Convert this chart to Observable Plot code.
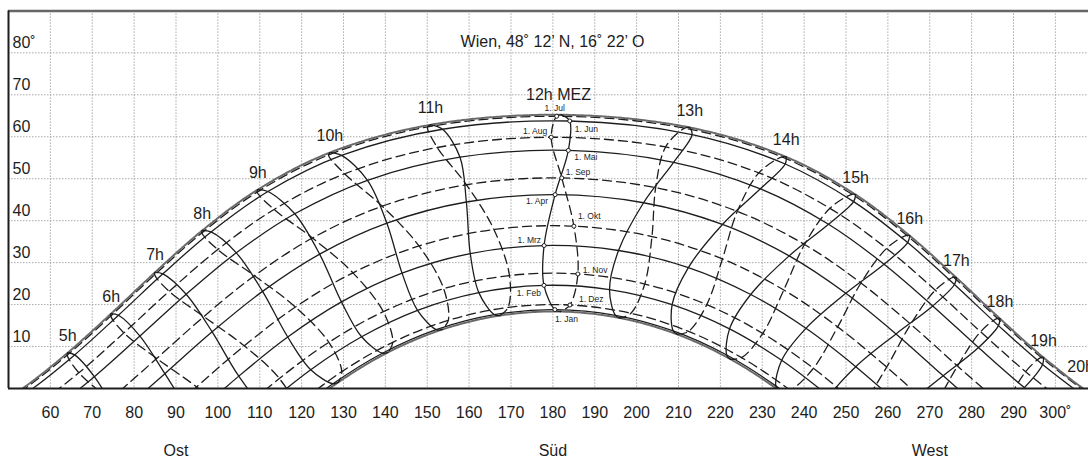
<!DOCTYPE html>
<html><head><meta charset="utf-8">
<script src="https://cdn.jsdelivr.net/npm/d3@7"></script>
<script src="https://cdn.jsdelivr.net/npm/@observablehq/plot@0.6"></script>
<style>html,body{margin:0;padding:0;background:#fff;overflow:hidden}</style>
</head><body><div id="chart"></div>
<script>
// ---- data: [hour (MEZ), azimuth °, altitude °] read for each date ----
const jan1 = [[7,116.58,-7.32],[8,127.49,1.14],[9,139.29,8.41],[10,152.14,14.04],[11,166.00,17.61],[12,180.48,18.80],[13,194.94,17.45],[14,208.74,13.73],[15,221.52,7.98],[16,233.24,0.62],[17,244.12,-7.91]];
const feb1 = [[7,110.98,-4.45],[8,122.18,4.48],[9,134.32,12.33],[10,147.68,18.63],[11,162.32,22.85],[12,177.87,24.58],[13,193.53,23.59],[14,208.48,19.99],[15,222.19,14.21],[16,234.64,6.73],[17,246.05,-1.94]];
const mar1 = [[6,93.85,-6.90],[7,105.00,2.95],[8,116.68,12.27],[9,129.51,20.64],[10,143.98,27.50],[11,160.27,32.17],[12,177.90,34.07],[13,195.68,32.89],[14,212.36,28.82],[15,227.25,22.41],[16,240.43,14.34],[17,252.33,5.20],[18,263.55,-4.57]];
const apr1 = [[5,76.09,-6.36],[6,87.34,3.53],[7,98.63,13.50],[8,110.67,23.15],[9,124.30,32.02],[10,140.36,39.41],[11,159.34,44.45],[12,180.53,46.20],[13,201.66,44.27],[14,220.50,39.10],[15,236.43,31.61],[16,249.95,22.69],[17,261.94,13.01],[18,273.21,3.03],[19,284.48,-6.83]];
const may1 = [[4,59.16,-6.23],[5,70.50,2.81],[6,81.39,12.50],[7,92.43,22.46],[8,104.40,32.34],[9,118.36,41.64],[10,135.73,49.63],[11,157.82,55.13],[12,183.69,56.75],[13,208.83,53.92],[14,229.55,47.59],[15,245.82,39.14],[16,259.09,29.62],[17,270.71,19.68],[18,281.64,9.75],[19,292.59,0.21],[20,304.15,-8.58]];
const jun1 = [[3,43.60,-8.00],[4,54.90,-0.66],[5,65.79,8.01],[6,76.26,17.46],[7,86.87,27.33],[8,98.37,37.31],[9,111.95,46.95],[10,129.53,55.55],[11,153.65,61.79],[12,184.03,63.76],[13,213.25,60.53],[14,235.49,53.51],[15,251.82,44.54],[16,264.72,34.77],[17,275.90,24.79],[18,286.41,14.99],[19,296.94,5.71],[20,308.01,-2.72]];
const jul1 = [[3,41.44,-7.90],[4,53.13,-0.58],[5,64.01,7.94],[6,74.42,17.28],[7,84.90,27.10],[8,96.17,37.08],[9,109.37,46.81],[10,126.41,55.65],[11,150.07,62.34],[12,180.91,64.89],[13,211.47,62.06],[14,234.70,55.19],[15,251.45,46.29],[16,264.50,36.52],[17,275.71,26.54],[18,286.16,16.74],[19,296.59,7.44],[20,307.50,-1.03]];
const aug1 = [[4,55.54,-5.00],[5,66.81,3.75],[6,77.55,13.26],[7,88.36,23.16],[8,99.97,33.11],[9,113.41,42.68],[10,130.28,51.18],[11,152.39,57.44],[12,179.60,59.89],[13,206.92,57.57],[14,229.19,51.40],[15,246.16,42.94],[16,259.69,33.39],[17,271.33,23.44],[18,282.14,13.53],[19,292.89,4.01],[20,304.13,-4.77]];
const sep1 = [[5,74.25,-2.67],[6,85.39,7.16],[7,96.64,17.14],[8,108.73,26.88],[9,122.58,35.87],[10,139.24,43.45],[11,159.37,48.56],[12,182.12,50.19],[13,204.55,47.87],[14,224.05,42.22],[15,240.10,34.33],[16,253.57,25.14],[17,265.45,15.33],[18,276.63,5.34],[19,287.82,-4.41]];
const oct1 = [[5,83.70,-9.61],[6,94.92,0.37],[7,106.30,10.18],[8,118.52,19.41],[9,132.25,27.57],[10,148.03,33.97],[11,165.92,37.90],[12,185.02,38.69],[13,203.66,36.21],[14,220.49,30.88],[15,235.15,23.48],[16,248.02,14.69],[17,259.71,5.10],[18,270.92,-4.85]];
const nov1 = [[6,103.61,-7.04],[7,114.68,2.39],[8,126.50,11.00],[9,139.50,18.31],[10,153.92,23.79],[11,169.63,26.92],[12,185.97,27.30],[13,201.94,24.90],[14,216.75,19.99],[15,230.12,13.12],[16,242.22,4.82],[17,253.43,-4.43]];
const dec1 = [[7,118.40,-4.26],[8,129.60,4.03],[9,141.76,11.01],[10,155.03,16.25],[11,169.30,19.32],[12,184.07,19.90],[13,198.64,17.92],[14,212.40,13.61],[15,225.06,7.35],[16,236.65,-0.39],[17,247.52,-9.21]];
const jun21 = [[3,41.64,-7.41],[4,53.31,-0.03],[5,64.14,8.52],[6,74.53,17.86],[7,84.99,27.68],[8,96.27,37.66],[9,109.54,47.40],[10,126.74,56.22],[11,150.77,62.85],[12,182.06,65.24],[13,212.69,62.21],[14,235.72,55.19],[15,252.29,46.20],[16,265.22,36.41],[17,276.35,26.43],[18,286.76,16.65],[19,297.17,7.39],[20,308.09,-1.02],[21,319.86,-8.21]];
const dec21 = [[7,117.82,-6.86],[8,128.77,1.49],[9,140.61,8.60],[10,153.50,14.03],[11,167.35,17.39],[12,181.78,18.34],[13,196.12,16.78],[14,209.76,12.88],[15,222.40,6.99],[16,233.99,-0.46],[17,244.77,-9.06]];

const months = ["1. Jan","1. Feb","1. Mrz","1. Apr","1. Mai","1. Jun","1. Jul","1. Aug","1. Sep","1. Okt","1. Nov","1. Dez"];
const solstices = ["21. Jun","21. Dez"];
const hourLabels = [5,6,7,8,9,10,11,12,13,14,15,16,17,18,19,20];
const xTicks = [60,70,80,90,100,110,120,130,140,150,160,170,180,190,200,210,220,230,240,250,260,270,280,290,300];
const yTicks = [10,20,30,40,50,60,70,80];
const directions = ["Ost","Süd","West"];
const directionAz = [90,180,270];
const title = "Wien, 48˚ 12’ N, 16˚ 22’ O";

// ---- build tables ----
const series = [jan1,feb1,mar1,apr1,may1,jun1,jul1,aug1,sep1,oct1,nov1,dec1];
const byDate = new Map(months.map((m,i)=>[m,series[i]]));
byDate.set("21. Jun", jun21); byDate.set("21. Dez", dec21);
const rows = [];
for (const [date, pts] of byDate) for (const [hour, az, alt] of pts) rows.push({date, hour, az, alt});
const find = (dt, h) => rows.find(r => r.date === dt && r.hour === h);

const firstHalf = months.slice(0,6), secondHalf = months.slice(6);
const solidPaths = rows.filter(d => firstHalf.includes(d.date));
const dashedPaths = rows.filter(d => secondHalf.includes(d.date));
const solsticePaths = rows.filter(d => solstices.includes(d.date));
const risingOrder = ["21. Dez", ...firstHalf, "21. Jun"];
const fallingOrder = ["21. Jun", ...secondHalf, "21. Dez"];
const loopHours = hourLabels.filter(h => h <= 19);
const risingLoops = loopHours.flatMap(h => risingOrder.map(dt => find(dt,h)).filter(Boolean));
const fallingLoops = loopHours.flatMap(h => fallingOrder.map(dt => find(dt,h)).filter(Boolean));
const noon = months.map(m => find(m, 12));
const hourTops = hourLabels.map(h => find("21. Jun", h));

// ---- styles / layout ----
const ink = "#1d1d1d";
const font = "Liberation Sans, Arial, Helvetica, sans-serif";
const monthLabelLayout = {
  "1. Jan": {dx: 0, dy: 10, a: "start"},
  "1. Feb": {dx: -3, dy: 8, a: "end"},
  "1. Mrz": {dx: -3, dy: -5, a: "end"},
  "1. Apr": {dx: -7, dy: 7, a: "end"},
  "1. Mai": {dx: 6, dy: 7, a: "start"},
  "1. Jun": {dx: 5, dy: 8, a: "start"},
  "1. Jul": {dx: -2, dy: -8, a: "middle"},
  "1. Aug": {dx: -4, dy: -6, a: "end"},
  "1. Sep": {dx: 4, dy: -6, a: "start"},
  "1. Okt": {dx: 4, dy: -10, a: "start"},
  "1. Nov": {dx: 5, dy: -4, a: "start"},
  "1. Dez": {dx: 9, dy: -6, a: "start"}
};

const lineOpts = {x: "az", y: "alt", curve: "catmull-rom", clip: true, stroke: ink, strokeWidth: 1.3};

const chart = Plot.plot({
  width: 1088, height: 461,
  marginLeft: 8, marginRight: 0, marginTop: 10.4, marginBottom: 73,
  x: {domain: [50, 310], range: [8, 1096.75]},
  y: {domain: [0, 90], range: [388, 10.4], axis: null},
  style: {fontFamily: font, fontSize: "16px", color: ink, background: "#fff"},
  marks: [
    Plot.ruleX(xTicks, {stroke: "#a0a0a0", strokeWidth: 0.9, strokeDasharray: "1.5,1.5"}),
    Plot.ruleY(yTicks, {stroke: "#a0a0a0", strokeWidth: 0.9, strokeDasharray: "1.5,1.5"}),
    Plot.line(solidPaths, {...lineOpts, z: "date"}),
    Plot.line(dashedPaths, {...lineOpts, z: "date", strokeDasharray: "9,5"}),
    Plot.line(solsticePaths, {...lineOpts, z: "date", stroke: "#6a6a6a", strokeWidth: 2, strokeDasharray: "4,1.2,1,1.2"}),
    Plot.line(risingLoops, {...lineOpts, z: "hour"}),
    Plot.line(fallingLoops, {...lineOpts, z: "hour", strokeDasharray: "9,5"}),
    Plot.dot(noon, {x: "az", y: "alt", r: 2, fill: "#fff", stroke: ink, strokeWidth: 1}),
    ...months.map((m, i) => Plot.text([noon[i]], {x: "az", y: "alt", text: "date",
      dx: monthLabelLayout[m].dx, dy: monthLabelLayout[m].dy, textAnchor: monthLabelLayout[m].a,
      fontSize: 8.5, fill: ink})),
    Plot.text(hourTops.filter(d => d.hour !== 12 && d.hour !== 20), {x: "az", y: "alt", text: d => d.hour + "h", dy: -17, fontSize: 16, fill: ink}),
    Plot.text(hourTops.filter(d => d.hour === 12), {x: "az", y: "alt", text: d => d.hour + "h MEZ", dx: -3, dy: -20, fontSize: 16, fill: ink}),
    Plot.text(hourTops.filter(d => d.hour === 20), {x: "az", y: "alt", text: d => d.hour + "h", dx: -22, dy: -26, textAnchor: "start", fontSize: 16, fill: ink}),
    Plot.text(yTicks, {y: d => d, frameAnchor: "left", dx: 4, dy: -10, textAnchor: "start",
      text: d => d === 80 ? d + "˚" : String(d), fontSize: 16, fill: ink}),
    Plot.text([title], {frameAnchor: "top", dx: 4, dy: 25, fontSize: 16, fill: ink}),
    Plot.ruleY([0], {stroke: ink, strokeWidth: 2}),
    Plot.ruleY([90], {stroke: "#666", strokeWidth: 2.5}),
    Plot.ruleX([50], {stroke: ink, strokeWidth: 2}),
    Plot.axisX({ticks: xTicks, tickSize: 0, tickPadding: 18, label: null, fontSize: 16,
      tickFormat: d => d === 300 ? d + "˚" : String(d)}),
    Plot.axisX({ticks: directionAz, tickSize: 0, tickPadding: 56, label: null, fontSize: 16,
      tickFormat: d => directions[directionAz.indexOf(d)]})
  ]
});
document.getElementById("chart").append(chart);
</script>
</body></html>
